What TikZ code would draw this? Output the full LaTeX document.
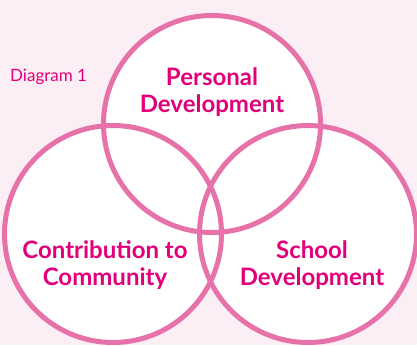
\documentclass[tikz,border=0pt]{standalone}
\usepackage{fontspec}
\setmainfont{Lato}
\definecolor{ringpink}{HTML}{E672A9}
\definecolor{labelpink}{HTML}{E2007A}
\definecolor{paper}{HTML}{FCEEF5}
\begin{document}
\begin{tikzpicture}[x=1pt,y=-1pt,
  ring/.style={draw=ringpink, line width=5pt},
  ringfill/.style={fill=white},
  label/.style={text=labelpink, font=\fontsize{24}{27}\selectfont\bfseries, align=center, inner sep=0pt},
  caption/.style={text=labelpink, font=\fontsize{17}{20}\selectfont, inner sep=0pt}]
  % page background
  \fill[paper] (0,0) rectangle (417,345);
  \useasboundingbox (0,0) rectangle (417,345);
  % circle centres
  \coordinate (cp) at (212,124);
  \coordinate (cc) at (113,234);
  \coordinate (cs) at (308,234);
  % white interiors first, then the rings on top
  \fill[ringfill] (cp) circle[radius=108.5];
  \fill[ringfill] (cc) circle[radius=108.5];
  \fill[ringfill] (cs) circle[radius=108.5];
  \draw[ring] (cp) circle[radius=108.5];
  \draw[ring] (cc) circle[radius=108.5];
  \draw[ring] (cs) circle[radius=108.5];
  % labels
  \node[caption, anchor=base west] (cap) at (10,81) {Diagram 1};
  \node[label] (personal) at (212,92) {Personal\\Development};
  \node[label] (community) at (105,265) {Contribution to\\Community};
  \node[label] (school) at (312,265) {School\\Development};
\end{tikzpicture}
\end{document}
